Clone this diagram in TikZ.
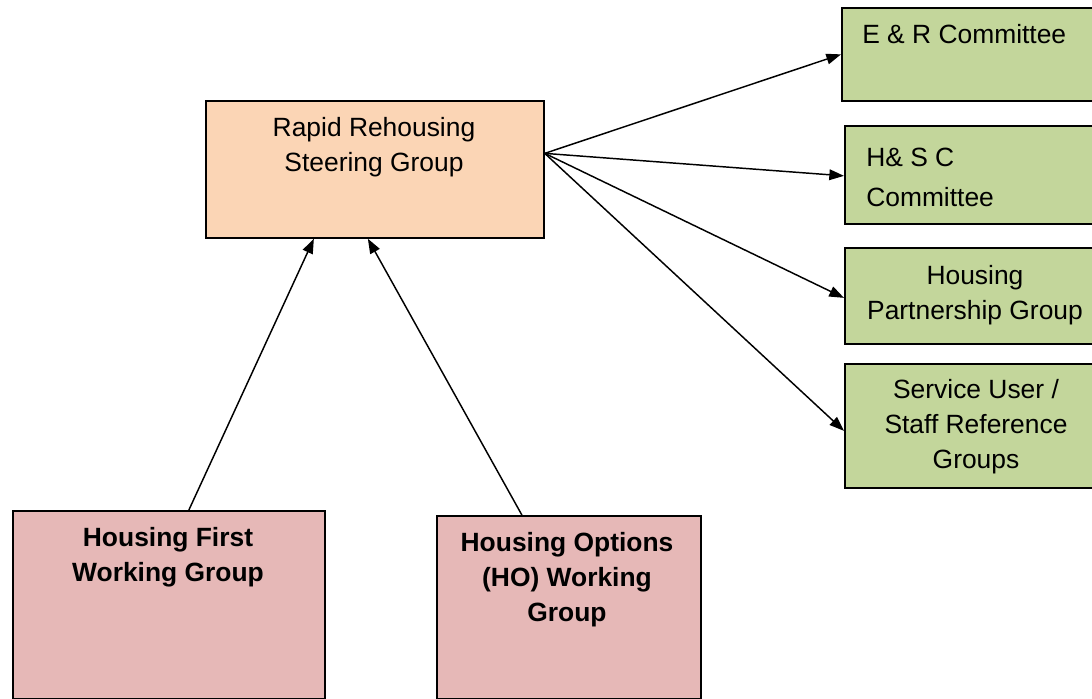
\documentclass[tikz,border=0pt]{standalone}
\usepackage{fontspec}
\setmainfont{Liberation Sans}
\usetikzlibrary{arrows.meta}
\definecolor{peach}{HTML}{FBD5B5}
\definecolor{leaf}{HTML}{C3D69B}
\definecolor{rose}{HTML}{E6B8B7}
\tikzset{
  box/.style={draw=black, line width=1.3pt, anchor=north west, inner sep=0pt, rectangle},
  txt/.style={inner sep=0pt, font=\fontsize{19.8}{26.25}\selectfont, align=center},
  btxt/.style={txt, font=\fontsize{19.8}{26.25}\selectfont\bfseries},
  link/.style={line width=1.1pt, -{Triangle[length=11pt,width=8pt]}}
}
\begin{document}
\begin{tikzpicture}[x=0.75pt,y=-0.75pt]
\useasboundingbox (0,0) rectangle (1092,699);
\clip (0,0) rectangle (1092,699);
\fill[white] (0,0) rectangle (1092,699);
% boxes
\node[box, fill=peach, minimum width=253.5pt, minimum height=102.75pt] (rr) at (205,100) {};
\node[box, fill=leaf, minimum width=188.25pt, minimum height=69.75pt] (er) at (841,7) {};
\node[box, fill=leaf, minimum width=186pt, minimum height=73.5pt] (hs) at (844,125) {};
\node[box, fill=leaf, minimum width=186pt, minimum height=72pt] (hp) at (844,247) {};
\node[box, fill=leaf, minimum width=186pt, minimum height=93pt] (su) at (844,363) {};
\node[box, fill=rose, minimum width=234pt, minimum height=141pt] (hf) at (12,510) {};
\node[box, fill=rose, minimum width=198pt, minimum height=137.25pt] (ho) at (436,515) {};
% texts
\node[txt] (rrt) at (374,147) {Rapid Rehousing\\Steering Group};
\node[txt, anchor=west] (ert) at (862,34) {E \& R Committee};
\node[txt, anchor=west, align=left, font=\fontsize{19.8}{30}\selectfont] (hst) at (866,177) {H\& S C\\Committee};
\node[txt] (hpt) at (975,295) {Housing\\Partnership Group};
\node[txt] (sut) at (976,427) {Service User /\\Staff Reference\\Groups};
\node[btxt] (hft) at (168,557.5) {Housing First\\Working Group};
\node[btxt] (hot) at (567,580) {Housing Options\\(HO) Working\\Group};
% connectors
\coordinate (src) at ([yshift=12pt]rr.east);
\draw[link] (src) -- (er.west);
\draw[link] (src) -- ([yshift=-0.75pt]hs.west);
\draw[link] (src) -- ([yshift=-1.5pt]hp.west);
\draw[link] (src) -- ([yshift=-3.75pt]su.west);
\draw[link] ([xshift=15pt]hf.north) -- ([xshift=-45.75pt]rr.south);
\draw[link] ([xshift=-35.25pt]ho.north) -- ([xshift=-5.25pt]rr.south);
\end{tikzpicture}
\end{document}
